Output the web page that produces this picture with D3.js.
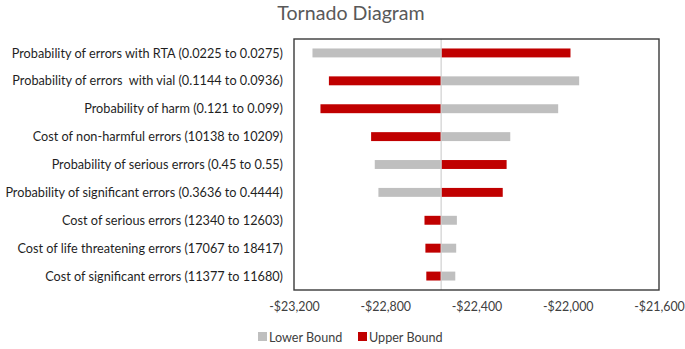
<!DOCTYPE html>
<html>
<head>
<meta charset="utf-8">
<script src="https://cdn.jsdelivr.net/npm/d3@7"></script>
<style>
  body { margin: 0; background: #fff; }
  svg { display: block; }
</style>
</head>
<body>
<div id="chart"></div>
<script>
// values (net cost in $)
const categories = [
    "Probability of errors with RTA (0.0225 to 0.0275)",
    "Probability of errors  with vial (0.1144 to 0.0936)",
    "Probability of harm (0.121 to 0.099)",
    "Cost of non-harmful errors (10138 to 10209)",
    "Probability of serious errors (0.45 to 0.55)",
    "Probability of significant errors (0.3636 to 0.4444)",
    "Cost of serious errors (12340 to 12603)",
    "Cost of life threatening errors (17067 to 18417)",
    "Cost of significant errors (11377 to 11680)"
];
const baseValue = -22555;
const lowerBound = [-23119, -21950, -22042, -22252, -22846, -22830, -22486, -22489, -22493];
const upperBound = [-21988, -23047, -23084, -22862, -22268, -22285, -22628, -22624, -22620];
const ticks = [-23200, -22800, -22400, -22000, -21600];
const seriesNames = ["Lower Bound", "Upper Bound"];
const colors = ["#BFBFBF", "#C00000"];

const width = 685, height = 349;
const margin = {top: 39, right: 26, bottom: 59, left: 294};

const svg = d3.select("#chart").append("svg")
    .attr("width", width)
    .attr("height", height)
    .style("font-family", "Lato, 'Open Sans', sans-serif");

const x = d3.scaleLinear()
    .domain([-23200, -21600])
    .range([margin.left, width - margin.right]);

const y = d3.scaleBand()
    .domain(categories)
    .range([margin.top, height - margin.bottom])
    .paddingInner(0.68)
    .paddingOuter(0.34);

// title
svg.append("text")
    .attr("x", 351)
    .attr("y", 20)
    .attr("text-anchor", "middle")
    .attr("fill", "#595959")
    .style("font-size", "19.6px")
    .text("Tornado Diagram");

// bars
const rows = categories.map((c, i) => ({cat: c, lo: lowerBound[i], hi: upperBound[i]}));
const series = [
    {name: seriesNames[0], color: colors[0], get: d => d.lo},
    {name: seriesNames[1], color: colors[1], get: d => d.hi}
];

series.forEach(s => {
    svg.append("g")
        .selectAll("rect")
        .data(rows)
        .join("rect")
        .attr("x", d => x(Math.min(baseValue, s.get(d))))
        .attr("width", d => Math.abs(x(s.get(d)) - x(baseValue)))
        .attr("y", d => y(d.cat))
        .attr("height", y.bandwidth())
        .attr("fill", s.color);
});

// center line at base value
svg.append("line")
    .attr("x1", x(baseValue))
    .attr("x2", x(baseValue))
    .attr("y1", margin.top)
    .attr("y2", height - margin.bottom)
    .attr("stroke", "#D0D0D0")
    .attr("stroke-width", 1.2);

// plot border
svg.append("rect")
    .attr("x", margin.left)
    .attr("y", margin.top)
    .attr("width", width - margin.right - margin.left)
    .attr("height", height - margin.bottom - margin.top)
    .attr("fill", "none")
    .attr("stroke", "#3A3A3A")
    .attr("stroke-width", 1.4);

// category labels
svg.append("g")
    .selectAll("text")
    .data(categories)
    .join("text")
    .attr("x", margin.left - 11)
    .attr("y", d => y(d) + y.bandwidth() / 2)
    .attr("dy", "0.36em")
    .attr("text-anchor", "end")
    .attr("fill", "#1F1F1F")
    .style("font-size", "12.7px")
    .style("white-space", "pre")
    .text(d => d);

// x axis tick labels
const fmt = d => "-$" + d3.format(",")(Math.abs(d));
const xAxis = d3.axisBottom(x)
    .tickValues(ticks)
    .tickFormat(fmt)
    .tickSize(0)
    .tickPadding(12);

const ax = svg.append("g")
    .attr("transform", `translate(0,${height - margin.bottom})`)
    .call(xAxis);
ax.select(".domain").remove();
ax.selectAll("text")
    .attr("fill", "#404040")
    .style("font-size", "12.4px")
    .style("font-family", "Lato, 'Open Sans', sans-serif");

// legend
const legend = svg.append("g").attr("transform", "translate(258,337)");
const legendX = [0, 100];
series.forEach((s, i) => {
    const g = legend.append("g").attr("transform", `translate(${legendX[i]},0)`);
    g.append("rect")
        .attr("x", 0)
        .attr("y", -5)
        .attr("width", 9)
        .attr("height", 9)
        .attr("fill", s.color);
    g.append("text")
        .attr("x", 11)
        .attr("y", 0)
        .attr("dy", "0.36em")
        .attr("fill", "#404040")
        .style("font-size", "12.6px")
        .text(s.name);
});
</script>
</body>
</html>
